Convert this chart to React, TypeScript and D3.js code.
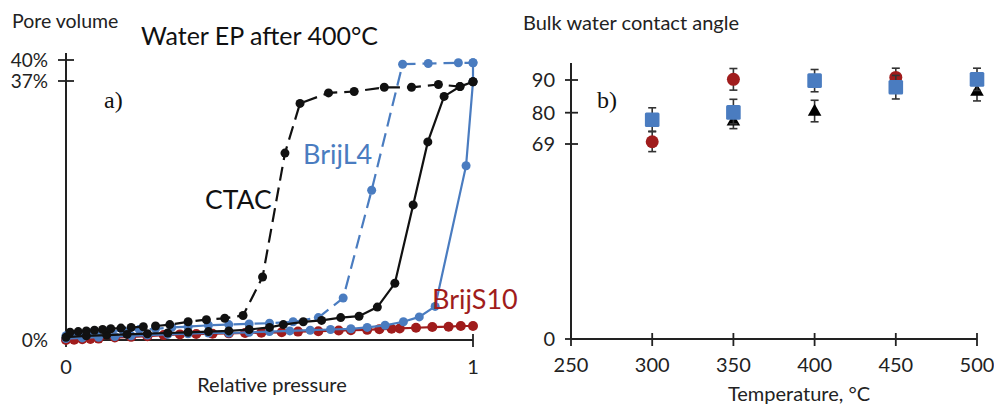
import React from "react";
import * as d3 from "d3";

// ---- Panel a) data: relative pressure (x) vs pore volume % (y)
const ctacDashX = [0.01, 0.03, 0.05, 0.07, 0.09, 0.11, 0.135, 0.16, 0.19, 0.22, 0.255, 0.3, 0.345, 0.39, 0.435, 0.483, 0.538, 0.575, 0.645, 0.708, 0.782, 0.849, 0.915, 0.968, 1.0];
const ctacDashY = [1.1, 1.2, 1.3, 1.4, 1.5, 1.6, 1.7, 1.8, 1.9, 2.0, 2.2, 2.6, 2.9, 3.1, 3.5, 9.0, 26.7, 33.8, 35.3, 35.5, 36.1, 36.1, 36.5, 36.2, 36.9];

const ctacSolidX = [0, 0.05, 0.1, 0.15, 0.2, 0.25, 0.3, 0.35, 0.4, 0.45, 0.5, 0.534, 0.583, 0.628, 0.675, 0.72, 0.765, 0.808, 0.853, 0.889, 0.929, 0.968, 1.0];
const ctacSolidY = [0.4, 0.6, 0.7, 0.8, 0.9, 1.0, 1.1, 1.2, 1.3, 1.5, 1.8, 2.2, 2.6, 2.8, 3.2, 3.4, 4.7, 8.1, 19.3, 28.3, 34.8, 36.2, 36.9];

const brijL4DashX = [0, 0.03, 0.06, 0.1, 0.14, 0.18, 0.22, 0.26, 0.3, 0.35, 0.4, 0.45, 0.5, 0.558, 0.62, 0.681, 0.751, 0.827, 0.89, 0.964, 1.0];
const brijL4DashY = [0.6, 0.8, 1.0, 1.2, 1.4, 1.5, 1.6, 1.8, 1.9, 2.1, 2.2, 2.3, 2.4, 2.6, 3.2, 6.0, 21.4, 39.4, 39.5, 39.6, 39.6];

const brijL4SolidX = [0, 0.04, 0.08, 0.12, 0.16, 0.2, 0.25, 0.3, 0.35, 0.4, 0.45, 0.5, 0.55, 0.6, 0.65, 0.7, 0.74, 0.784, 0.829, 0.868, 0.907, 0.983, 1.0, 1.0];
const brijL4SolidY = [0.2, 0.3, 0.4, 0.5, 0.6, 0.7, 0.8, 0.9, 1.0, 1.0, 1.1, 1.2, 1.3, 1.4, 1.5, 1.6, 1.8, 2.1, 2.6, 3.3, 4.8, 24.9, 36.9, 39.6];

const brijS10X = [0, 0.02, 0.04, 0.06, 0.08, 0.12, 0.16, 0.2, 0.24, 0.28, 0.32, 0.36, 0.4, 0.44, 0.48, 0.53, 0.57, 0.62, 0.67, 0.7, 0.74, 0.77, 0.8, 0.82, 0.86, 0.9, 0.94, 0.97, 1.0];
const brijS10Y = [0, 0.05, 0.1, 0.15, 0.2, 0.35, 0.45, 0.55, 0.7, 0.8, 0.85, 0.9, 0.95, 1.0, 1.05, 1.1, 1.2, 1.25, 1.35, 1.4, 1.45, 1.55, 1.6, 1.65, 1.75, 1.85, 1.9, 2.0, 2.0];

const leftYTicks = [0, 37, 40];
const leftYTickLabels = ["0%", "37%", "40%"];
const leftXTicks = [0, 1];
const leftXTickLabels = ["0", "1"];

// ---- Panel b) data: temperature vs contact angle
const temps = [250, 300, 350, 400, 450, 500];
const rightYTicks = [0, 69, 80, 90];

const triT = [350, 400, 500];
const triV = [76.9, 80.3, 86.4];
const triE = [2.5, 3.5, 2.8];

const circT = [300, 350, 450];
const circV = [69.8, 90.2, 90.8];
const circE = [3.5, 3.3, 2.8];

const sqT = [300, 350, 400, 450, 500];
const sqV = [77.5, 80.1, 89.8, 87.8, 90.2];
const sqE = [4.0, 4.0, 3.4, 3.6, 3.4];

const BLACK = "#111";
const BLUE = "#4a7cc0";
const RED = "#a01c1c";
const FONT = "Lato, 'Open Sans', sans-serif";

export default function App() {
  const xL = d3.scaleLinear().domain([0, 1]).range([66, 473]);
  const yL = d3.scaleLinear().domain([0, 40]).range([340, 60]);
  const xR = d3.scaleLinear().domain([250, 500]).range([571, 977]);
  const yR = d3.scaleLinear().domain([0, 69, 80, 90, 95]).range([339, 144, 112.7, 80, 63.6]);

  const line = d3.line<[number, number]>().x((d) => xL(d[0])).y((d) => yL(d[1]));
  const zip = (xs: number[], ys: number[]) => xs.map((x, i) => [x, ys[i]] as [number, number]);

  const series = [
    { pts: zip(brijS10X, brijS10Y), color: RED, dash: undefined as string | undefined, r: 5 },
    { pts: zip(brijL4SolidX, brijL4SolidY), color: BLUE, dash: undefined, r: 4.5 },
    { pts: zip(brijL4DashX, brijL4DashY), color: BLUE, dash: "14 7", r: 4.5 },
    { pts: zip(ctacSolidX, ctacSolidY), color: BLACK, dash: undefined, r: 4.5 },
    { pts: zip(ctacDashX, ctacDashY), color: BLACK, dash: "14 7", r: 4.5 },
  ];

  const tri = d3.symbol().type(d3.symbolTriangle).size(80)() as string;

  const errBar = (t: number, v: number, e: number, key: string) => (
    <g key={key} stroke="#333" strokeWidth={1.6}>
      <line x1={xR(t)} x2={xR(t)} y1={yR(v + e)} y2={yR(v - e)} />
      <line x1={xR(t) - 4} x2={xR(t) + 4} y1={yR(v + e)} y2={yR(v + e)} />
      <line x1={xR(t) - 4} x2={xR(t) + 4} y1={yR(v - e)} y2={yR(v - e)} />
    </g>
  );

  return (
    <svg width={994} height={405} style={{ position: "absolute", left: 0, top: 0, background: "#fff" }} fontFamily={FONT}>
      <rect width={994} height={405} fill="#fff" />
      {/* ---------- Panel a ---------- */}
      <text x={12} y={28} fontSize={19.5} fill="#222">Pore volume</text>
      <text x={141} y={45} fontSize={25} fill="#111">Water EP after 400°C</text>
      <text x={104} y={108} fontSize={24} fontFamily="'Liberation Serif', serif" fill="#111">a)</text>

      <line x1={xL(0)} x2={xL(0)} y1={53} y2={yL(0)} stroke="#222" strokeWidth={2} />
      <line x1={xL(0)} x2={xL(1)} y1={yL(0)} y2={yL(0)} stroke="#222" strokeWidth={2} />
      {leftYTicks.map((v, i) => (
        <g key={"ly" + v}>
          {v > 0 && <line x1={58} x2={74} y1={yL(v)} y2={yL(v)} stroke="#222" strokeWidth={1.8} />}
          <text x={48} y={yL(v)} dy="0.35em" textAnchor="end" fontSize={19} fill="#222">{leftYTickLabels[i]}</text>
        </g>
      ))}
      {leftXTicks.map((v, i) => (
        <g key={"lx" + v}>
          <line x1={xL(v)} x2={xL(v)} y1={334} y2={347} stroke="#222" strokeWidth={1.8} />
          <text x={xL(v)} y={367} dy="0.35em" textAnchor="middle" fontSize={20} fill="#222">{leftXTickLabels[i]}</text>
        </g>
      ))}
      <text x={272} y={385} dy="0.35em" textAnchor="middle" fontSize={20} fill="#222">Relative pressure</text>

      {series.map((s, i) => (
        <g key={"s" + i}>
          <path d={line(s.pts) as string} fill="none" stroke={s.color} strokeWidth={2.2} strokeDasharray={s.dash} />
          {s.pts.map((p, j) => (
            <circle key={j} cx={xL(p[0])} cy={yL(p[1])} r={s.r} fill={s.color} />
          ))}
        </g>
      ))}

      <text x={205} y={200} dy="0.35em" fontSize={26.5} fill="#111">CTAC</text>
      <text x={303} y={155} dy="0.35em" fontSize={27} fill={BLUE}>BrijL4</text>
      <text x={432} y={300} dy="0.35em" fontSize={27} fill={RED}>BrijS10</text>

      {/* ---------- Panel b ---------- */}
      <text x={523} y={30} fontSize={20} fill="#222">Bulk water contact angle</text>
      <text x={597} y={108} fontSize={24} fontFamily="'Liberation Serif', serif" fill="#111">b)</text>

      <line x1={xR(250)} x2={xR(250)} y1={63} y2={yR(0)} stroke="#222" strokeWidth={2} />
      <line x1={xR(250)} x2={xR(500)} y1={yR(0)} y2={yR(0)} stroke="#222" strokeWidth={2} />
      {rightYTicks.map((v) => (
        <g key={"ry" + v}>
          <line x1={565} x2={578} y1={yR(v)} y2={yR(v)} stroke="#222" strokeWidth={1.8} />
          <text x={555} y={yR(v)} dy="0.35em" textAnchor="end" fontSize={20} fill="#222">{v}</text>
        </g>
      ))}
      {temps.map((t) => (
        <g key={"rx" + t}>
          <line x1={xR(t)} x2={xR(t)} y1={333} y2={346} stroke="#222" strokeWidth={1.8} />
          <text x={xR(t)} y={365} dy="0.35em" textAnchor="middle" fontSize={20} fill="#222">{t}</text>
        </g>
      ))}
      <text x={799} y={394} dy="0.35em" textAnchor="middle" fontSize={20} fill="#222">Temperature, °C</text>

      {triT.map((t, i) => (
        <g key={"tri" + t}>
          {errBar(t, triV[i], triE[i], "te" + t)}
          <path d={tri} transform={`translate(${xR(t)},${yR(triV[i])})`} fill="#000" />
        </g>
      ))}
      {circT.map((t, i) => (
        <g key={"c" + t}>
          {errBar(t, circV[i], circE[i], "ce" + t)}
          <circle cx={xR(t)} cy={yR(circV[i])} r={6.5} fill={RED} />
        </g>
      ))}
      {sqT.map((t, i) => (
        <g key={"sq" + t}>
          {errBar(t, sqV[i], sqE[i], "se" + t)}
          <rect x={xR(t) - 7.3} y={yR(sqV[i]) - 7.3} width={14.6} height={14.6} rx={1.5} fill={BLUE} />
        </g>
      ))}
    </svg>
  );
}
